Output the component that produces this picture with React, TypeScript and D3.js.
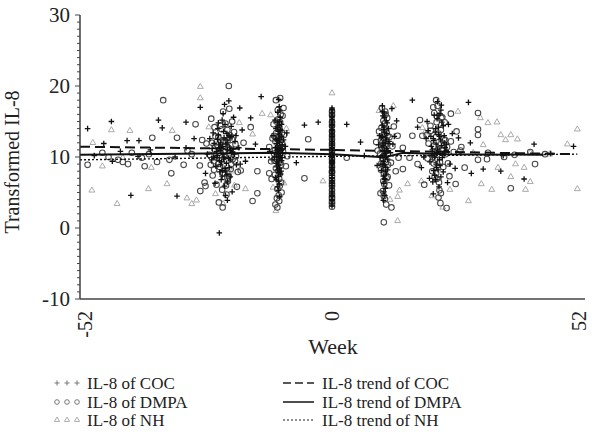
import React, { useRef, useEffect } from "react";
import * as d3 from "d3";

// IL-8 values per group, as [week, transformed IL-8]
const cocPoints: [number, number][] = [
  // scattered
  [-51.4,14.0],[-46.4,15.0],[-46.2,9.4],[-42.3,4.6],[-43.1,12.3],[-40.6,12.3],[-36.5,15.2],[-35.7,14.1],[-32.6,4.5],[-30.7,14.9],
  [-27.7,17.0],[-30.7,11.3],[-40.8,10.1],[-17.1,15.5],[-14.9,18.5],[-16.1,11.8],[-18.2,9.4],[-19.4,16.9],[-5.8,14.5],[-2.9,14.9],
  [3.1,14.6],[6.0,12.1],[18.0,14.2],[13.6,15.1],[12.8,11.8],[29.1,12.0],[31.8,8.3],[35.5,8.0],[42.5,11.8],[40.4,6.9],[29.3,7.7],
  [50.8,11.5],[-48.0,11.9],[-44.5,10.8],[-38.2,11.0],[-33.0,10.0],[-29.0,12.6],[-50.0,10.2],[6.8,10.2],[-7.5,9.2],[36.0,10.2],[46.0,10.5],
  [16.9,18.0],[28.7,17.7],
  // week -22 visit
  [-24.1,10.2],[-23.0,11.5],[-22.2,9.1],[-21.5,12.8],[-23.6,7.9],[-22.8,13.6],[-20.9,10.7],[-24.8,11.9],[-22.5,8.4],[-21.2,14.3],
  [-23.3,6.8],[-22.0,11.0],[-25.3,9.6],[-20.4,12.2],[-23.9,13.1],[-22.6,5.9],[-21.8,9.8],[-24.4,8.7],[-23.1,15.2],[-22.3,12.4],
  [-20.1,8.9],[-25.7,12.6],[-21.4,7.2],[-23.5,10.9],[-22.9,16.1],[-24.0,14.0],[-21.0,5.1],[-22.7,10.0],[-19.6,11.3],[-26.2,10.4],
  [-23.2,9.3],[-21.7,13.0],[-22.4,4.6],[-24.6,6.3],[-20.7,15.6],[-23.8,11.7],[-22.1,7.5],[-25.0,13.4],[-21.1,10.6],[-23.4,12.0],
  [-19.3,9.0],[-22.6,17.4],[-24.2,9.9],[-21.6,11.4],[-23.0,8.1],[-18.9,13.8],[-26.6,7.7],[-22.0,3.9],[-23.7,-0.7],[-21.7,17.9],
  [-22.9,10.4],[-21.9,12.0],[-23.7,9.5],[-22.3,11.8],[-24.3,10.8],[-21.3,9.6],[-22.7,12.7],[-23.4,8.9],[-20.8,11.1],[-24.9,10.0],
  [-22.1,13.3],[-23.1,7.3],[-21.6,8.5],[-22.5,14.6],[-24.1,12.5],[-20.5,10.4],[-23.6,11.3],[-22.0,6.5],[-21.2,12.9],[-25.2,11.2],
  [-22.8,9.7],[-23.9,14.8],[-21.4,10.9],[-22.4,8.0],[-20.2,13.0],
  // week -11 visit
  [-11.3,10.4],[-11.0,12.1],[-11.6,8.6],[-10.8,13.7],[-11.2,7.3],[-11.4,14.9],[-10.6,9.5],[-11.9,11.3],[-11.1,6.2],[-10.9,15.6],
  [-11.5,10.9],[-11.2,12.8],[-11.7,9.1],[-10.5,11.7],[-11.3,5.3],[-11.0,13.2],[-12.1,10.0],[-10.7,8.0],[-11.4,16.3],[-11.1,11.0],
  [-11.8,12.5],[-10.4,10.6],[-11.2,7.8],[-11.5,14.2],[-10.9,9.8],[-12.4,13.0],[-11.0,4.4],[-11.6,11.9],[-10.2,12.4],[-11.3,8.9],
  [-11.1,17.1],[-11.7,6.8],[-10.8,10.2],[-12.0,15.2],[-11.4,9.3],[-9.8,11.5],[-11.9,7.1],[-10.6,14.6],[-12.6,9.6],[-11.2,18.1],
  [-9.5,13.4],[-13.1,10.8],
  [-11.2,10.0],[-10.9,11.3],[-11.5,12.3],[-11.0,8.4],[-11.3,13.6],[-10.7,10.9],[-11.6,9.6],[-11.1,14.4],[-10.8,7.6],[-11.4,11.6],
  [-11.0,15.0],[-11.7,10.4],[-10.6,12.9],[-11.3,6.6],[-11.2,9.0],[-10.9,13.9],[-11.5,8.2],[-11.0,16.6],[-11.8,14.0],[-10.5,9.9],
  [-11.4,5.8],[-11.1,12.5],
  // baseline, week 0
  [0,3.1],[0,3.9],[0,4.4],[0,4.6],[0,5.2],[0,5.8],[0,6.0],[0,6.7],[0,7.1],[0,7.4],[0,7.7],[0,8.3],[0,8.5],[0,8.6],[0,9.2],
  [0,9.4],[0,9.5],[0,9.9],[0,10.0],[0,10.4],[0,10.5],[0,10.9],[0,11.2],[0,11.3],[0,11.8],[0,12.0],[0,12.4],[0,12.7],[0,13.1],
  [0,13.5],[0,13.9],[0,14.2],[0,14.6],[0,15.1],[0,15.5],[0,15.9],[0,16.5],[0,16.9],
  [0,3.5],[0,4.0],[0,4.9],[0,5.5],[0,6.3],[0,6.5],[0,7.0],[0,7.9],[0,8.1],[0,8.9],[0,9.1],[0,9.7],[0,10.2],[0,10.7],[0,11.0],
  [0,11.6],[0,12.2],[0,12.9],[0,13.3],[0,13.7],[0,14.4],[0,14.9],[0,15.3],[0,15.7],[0,16.2],[0,16.7],
  // week 11 visit
  [11.0,10.3],[10.7,12.0],[11.3,8.5],[10.9,13.9],[11.1,7.0],[10.5,11.4],[11.4,15.1],[10.8,9.4],[11.2,5.6],[10.6,14.5],
  [11.6,10.8],[10.4,8.1],[11.0,16.2],[11.3,12.7],[10.2,10.0],[11.8,11.9],[10.9,6.3],[11.5,13.3],[10.3,9.0],[11.1,4.6],
  [12.0,12.2],[10.7,15.8],[11.4,7.6],[10.0,13.0],[11.7,9.7],[10.6,17.2],[11.9,14.0],[10.8,3.9],[12.3,10.6],[9.8,11.7],
  [12.6,16.8],[9.5,8.8],[13.1,12.9],
  [11.1,10.9],[10.8,11.6],[11.3,9.9],[10.6,12.9],[11.0,8.9],[11.5,11.2],[10.9,14.2],[11.2,7.9],[10.5,10.2],[11.4,12.4],
  [11.0,13.5],[10.7,9.0],[11.6,14.8],[11.1,6.8],[10.4,12.8],[11.3,10.5],[10.9,5.1],[11.7,8.2],[10.6,16.4],[11.2,11.9],
  [11.0,15.6],[10.8,7.3],
  // week 22 visit
  [22.0,10.6],[21.4,12.3],[22.7,8.8],[21.8,14.0],[23.2,9.9],[20.9,11.5],[22.4,13.2],[21.6,7.4],[23.6,12.0],[22.1,15.4],
  [20.6,9.3],[24.0,10.9],[21.2,6.5],[22.9,16.6],[21.9,11.8],[23.4,7.9],[20.2,13.7],[22.5,5.8],[24.5,14.6],[21.0,10.2],
  [23.0,17.3],[22.3,8.2],[19.8,12.6],[24.8,9.0],[21.5,15.9],[23.8,11.3],[20.5,7.0],[22.6,12.9],[25.3,13.3],[21.3,4.8],
  [19.3,10.0],[23.1,14.9],[22.2,17.8],[25.9,8.4],[20.0,15.0],[24.3,6.4],[26.6,12.7],[18.8,8.5],
  [22.2,11.1],[21.6,10.0],[22.8,12.4],[21.9,9.0],[23.0,11.6],[22.4,14.2],[21.3,12.6],[23.3,10.5],[22.0,8.5],[21.7,13.5],
  [22.6,9.6],[23.6,13.0],[21.1,11.0],[22.9,7.2],[22.3,15.9],[21.4,8.1],[24.1,11.8],[20.8,12.9],[22.5,10.8],[23.4,14.4],
  [21.8,6.8],[22.7,16.1],
];

const dmpaPoints: [number, number][] = [
  // scattered
  [-51.4,8.9],[-48.3,10.6],[-42.9,9.0],[-39.4,8.7],[-35.5,18.0],[-37.8,12.7],[-33.8,7.7],[-32.6,12.7],[-28.7,14.6],[-26.6,5.9],
  [-27.7,5.2],[-29.5,10.4],[-42.1,10.6],[-17.1,14.2],[-15.7,4.9],[-16.7,3.8],[-15.7,8.0],[-13.2,7.7],[-5.0,12.5],[-5.8,7.0],
  [3.1,9.9],[16.9,13.0],[19.0,13.0],[16.3,9.9],[18.0,9.0],[14.9,8.3],[13.8,13.0],[14.9,11.3],[30.7,16.2],[30.7,13.9],
  [30.7,13.1],[32.6,9.7],[30.7,9.6],[42.7,9.0],[37.6,5.6],[32.8,10.6],[44.8,10.4],[41.7,10.7],[-45.0,9.6],[-36.8,9.3],
  [-31.2,8.9],[-47.0,10.0],[-38.5,10.4],[-34.2,9.6],[-44.0,9.3],[-30.4,10.9],[-40.0,9.9],[36.2,10.0],[38.4,10.3],[27.0,10.9],
  // week -22 visit
  [-23.4,11.2],[-22.1,9.5],[-24.5,12.9],[-21.3,8.3],[-22.8,10.8],[-25.1,7.4],[-20.6,13.5],[-23.9,9.0],[-22.4,14.7],[-21.9,6.6],
  [-24.0,11.6],[-23.1,5.4],[-20.2,10.1],[-25.8,10.3],[-22.6,12.3],[-21.0,15.0],[-23.6,8.6],[-24.7,14.2],[-19.8,7.9],[-22.2,4.7],
  [-26.4,11.9],[-21.5,12.7],[-23.2,13.9],[-20.9,9.7],[-24.3,6.1],[-22.9,16.4],[-25.5,8.9],[-21.7,10.5],[-23.8,3.6],[-20.3,11.8],
  [-22.0,7.0],[-27.3,12.4],[-24.9,9.4],[-19.2,8.1],[-21.6,16.8],[-26.8,6.4],[-23.0,2.9],[-21.7,20.0],[-18.6,12.0],[-25.4,15.4],
  [-27.8,8.8],[-20.0,5.8],
  [-22.5,10.1],[-23.3,12.1],[-21.8,11.3],[-24.2,9.9],[-22.7,8.2],[-20.9,12.4],[-23.7,10.6],[-22.0,13.8],[-24.6,11.0],[-21.2,9.0],
  [-22.9,7.7],[-23.5,14.4],[-21.5,13.1],[-25.2,12.0],[-22.3,6.0],[-20.4,9.4],[-23.9,12.8],[-21.7,7.3],[-24.8,8.2],[-22.6,11.5],
  // week -11 visit
  [-11.4,11.1],[-10.9,9.2],[-11.7,13.4],[-11.0,7.6],[-10.5,12.0],[-12.2,10.5],[-11.3,15.3],[-10.7,6.4],[-11.8,8.4],[-11.1,14.1],
  [-10.3,10.8],[-12.5,12.6],[-11.5,5.5],[-10.8,16.0],[-11.2,9.9],[-12.0,7.5],[-10.1,13.1],[-11.6,4.2],[-11.0,11.8],[-12.8,9.4],
  [-10.4,15.8],[-11.9,3.3],[-11.3,12.9],[-9.7,8.7],[-12.3,14.6],[-10.6,5.0],[-11.8,18.0],[-10.9,18.3],[-13.2,11.4],[-9.4,10.1],
  [-11.5,2.9],[-12.7,6.9],[-10.2,16.9],[-11.1,3.8],
  [-11.2,10.9],[-10.8,12.4],[-11.6,9.7],[-11.0,13.8],[-11.3,8.0],[-10.6,11.4],[-11.9,12.2],[-11.1,6.9],[-10.9,14.9],[-11.5,10.3],
  [-11.4,16.6],[-10.7,8.9],[-12.0,11.0],[-11.2,4.6],[-10.5,13.4],[-11.7,15.0],[-11.0,5.9],[-12.2,13.0],
  // baseline, week 0
  [0,3.4],[0,4.1],[0,4.8],[0,6.3],[0,8.0],[0,9.7],[0,11.5],[0,13.0],[0,14.4],[0,15.9],
  [0,3.7],[0,5.3],[0,5.9],[0,6.8],[0,7.3],[0,8.6],[0,9.2],[0,10.3],[0,10.8],[0,11.9],[0,12.5],[0,13.6],[0,14.9],[0,16.4],
  [0,4.4],[0,7.8],[0,3.0],
  // week 11 visit
  [11.2,11.0],[10.6,9.8],[11.5,13.4],[10.9,7.7],[11.0,14.7],[10.3,12.3],[11.8,8.9],[10.7,5.2],[11.3,16.0],[10.1,10.5],
  [12.1,12.8],[10.8,6.6],[11.6,15.5],[10.4,14.1],[11.1,4.1],[12.4,9.2],[9.9,13.6],[11.4,3.3],[12.7,11.5],[10.5,16.9],
  [12.0,6.0],[9.6,10.9],[13.0,14.3],[11.7,7.2],[10.2,4.9],[13.4,8.0],[9.3,12.1],[14.0,9.9],[10.9,0.8],[12.5,2.9],
  [11.0,10.1],[10.7,12.6],[11.4,9.3],[10.9,13.1],[11.2,8.4],[10.5,11.1],[11.6,11.8],[11.0,6.2],[10.8,15.1],[11.3,10.8],
  [11.1,14.0],[10.4,9.1],[11.7,13.0],[10.9,4.5],[11.5,7.0],[10.6,12.0],[11.2,16.4],[10.3,8.2],
  // week 22 visit
  [22.3,11.0],[21.7,9.6],[22.9,13.8],[21.1,8.0],[23.5,12.5],[22.0,6.9],[20.7,14.4],[23.9,10.4],[21.5,16.2],[22.6,5.3],
  [24.4,9.1],[20.3,11.9],[23.2,15.6],[21.9,7.7],[25.0,12.2],[22.4,4.3],[19.9,13.1],[24.7,7.3],[21.3,17.0],[23.7,14.9],
  [20.1,9.8],[25.6,10.7],[22.8,3.5],[19.4,6.1],[26.2,13.6],[21.9,18.0],[25.0,16.1],[26.0,6.2],[22.9,4.9],[27.9,8.5],
  [18.5,15.2],[27.2,11.4],[24.1,2.8],
  [22.1,10.3],[21.5,11.6],[22.7,9.3],[21.9,12.8],[23.1,10.9],[22.4,13.3],[21.2,10.0],[23.4,8.6],[22.0,14.9],[21.6,7.2],
  [22.8,11.8],[23.8,12.4],[20.8,13.7],[22.5,6.4],[23.0,15.5],[21.4,9.1],[24.2,11.4],[22.2,17.2],
];

const nhPoints: [number, number][] = [
  [-50.3,12.0],[-50.5,5.3],[-48.3,8.7],[-46.4,13.8],[-45.2,3.4],[-42.5,13.7],[-38.6,5.5],[-33.6,13.7],[-34.7,6.2],[-30.5,4.2],
  [-27.7,19.9],[-27.7,18.3],[-28.5,3.9],[-38.0,8.5],[-16.7,13.2],[-18.2,5.5],[-14.7,16.1],[-1.9,6.6],[0,19.0],[19.0,14.1],
  [15.9,6.2],[18.8,6.6],[13.8,4.4],[32.8,14.8],[34.7,14.9],[35.5,13.1],[36.5,12.4],[37.6,13.1],[39.0,12.5],[31.8,11.7],
  [29.7,10.6],[38.6,9.0],[34.9,8.5],[40.4,8.5],[41.7,6.5],[37.6,7.2],[40.7,5.4],[33.6,5.4],[28.7,3.8],[31.4,6.2],
  [24.8,5.4],[21.0,4.5],[31.2,15.5],[49.5,11.8],[51.6,13.9],[51.6,5.5],[45.8,10.4],[41.7,10.6],[-22.9,3.4],[-29.5,3.4],
  [-23.5,12.5],[-21.0,8.0],[-24.5,4.8],[-19.5,14.8],[-25.9,14.2],[-20.5,6.0],[-12.9,15.9],[-10.1,6.3],[-11.8,2.4],[-9.6,14.0],
  [-12.4,5.7],[13.8,1.0],[12.9,17.2],[14.2,5.3],[9.9,16.5],[12.2,4.0],[26.5,16.4],[19.6,13.5],[23.3,2.9],[-44.0,9.9],
];

// trend lines, [week, fitted value]
const cocTrend: [number, number][] = [[-53, 11.45], [0, 11.0], [50.5, 10.4]];
const dmpaTrend: [number, number][] = [[-53, 10.3], [-12, 10.6], [0, 10.4], [11, 9.95], [15, 10.6], [24, 10.4], [44.5, 10.3]];
const nhTrend: [number, number][] = [[-53, 9.6], [0, 10.1], [51.6, 10.4]];

const yTicks = [-10, 0, 10, 20, 30];
const xTicks = [-52, 0, 52];

const FONT = "'Liberation Serif', 'Times New Roman', serif";

const App = () => {
  const svgRef = useRef<SVGSVGElement>(null);

  useEffect(() => {
    const svg = d3.select(svgRef.current);
    svg.selectAll("*").remove();

    const x = d3.scaleLinear().domain([-53, 53]).range([80, 584]);
    const y = d3.scaleLinear().domain([-10, 30]).range([299, 15]);

    const plot = svg.append("g");

    // NH triangles
    const tri = d3.symbol().type(d3.symbolTriangle).size(15)();
    plot.append("g").selectAll("path")
      .data(nhPoints)
      .join("path")
      .attr("d", tri)
      .attr("transform", d => `translate(${x(d[0])},${y(d[1])})`)
      .attr("fill", "none")
      .attr("stroke", "#a0a0a0")
      .attr("stroke-width", 0.9);

    // DMPA circles
    plot.append("g").selectAll("circle")
      .data(dmpaPoints)
      .join("circle")
      .attr("cx", d => x(d[0]))
      .attr("cy", d => y(d[1]))
      .attr("r", 2.8)
      .attr("fill", "none")
      .attr("stroke", "#464646")
      .attr("stroke-width", 1.05);

    // COC plus signs
    plot.append("g").selectAll("path")
      .data(cocPoints)
      .join("path")
      .attr("d", "M-2.8,0H2.8M0,-2.8V2.8")
      .attr("transform", d => `translate(${x(d[0])},${y(d[1])})`)
      .attr("fill", "none")
      .attr("stroke", "#111")
      .attr("stroke-width", 1.3);

    // trend lines
    const line = d3.line<[number, number]>().x(d => x(d[0])).y(d => y(d[1]));
    const trends = [
      { data: nhTrend, dash: "2,2", width: 1.4 },
      { data: dmpaTrend, dash: null, width: 2 },
      { data: cocTrend, dash: "10,5", width: 2 },
    ];
    trends.forEach(t => {
      plot.append("path")
        .attr("d", line(t.data))
        .attr("fill", "none")
        .attr("stroke", "#111")
        .attr("stroke-width", t.width)
        .attr("stroke-dasharray", t.dash);
    });

    // y axis with minor ticks
    const yAxis = svg.append("g").attr("transform", "translate(80,0)");
    yAxis.append("line")
      .attr("x1", 0).attr("x2", 0)
      .attr("y1", y(30)).attr("y2", y(-10))
      .attr("stroke", "#333").attr("stroke-width", 1.4);
    yAxis.selectAll("line.minor")
      .data(d3.range(-10, 31, 1))
      .join("line")
      .attr("class", "minor")
      .attr("x1", d => (d % 10 === 0 ? -5 : -3))
      .attr("x2", 0)
      .attr("y1", d => y(d))
      .attr("y2", d => y(d))
      .attr("stroke", "#444")
      .attr("stroke-width", 1);
    yAxis.selectAll("text")
      .data(yTicks)
      .join("text")
      .attr("x", -10)
      .attr("y", d => y(d))
      .attr("dy", "0.35em")
      .attr("text-anchor", "end")
      .style("font-family", FONT)
      .style("font-size", "21px")
      .attr("fill", "#222")
      .text(d => d);

    // x axis
    svg.append("line")
      .attr("x1", 80).attr("x2", 585)
      .attr("y1", y(-10)).attr("y2", y(-10))
      .attr("stroke", "#444").attr("stroke-width", 1.4);
    svg.append("g").selectAll("text")
      .data(xTicks)
      .join("text")
      .attr("transform", d => `translate(${x(d)},${y(-10) + 12}) rotate(-90)`)
      .attr("dy", "0.35em")
      .attr("text-anchor", "end")
      .style("font-family", FONT)
      .style("font-size", "20px")
      .attr("fill", "#222")
      .text(d => d);

    // axis titles
    svg.append("text")
      .attr("x", 333).attr("y", 354)
      .attr("text-anchor", "middle")
      .style("font-family", FONT)
      .style("font-size", "22px")
      .attr("fill", "#222")
      .text("Week");
    svg.append("text")
      .attr("transform", "translate(19,162) rotate(-90)")
      .attr("text-anchor", "middle")
      .style("font-family", FONT)
      .style("font-size", "20px")
      .attr("fill", "#222")
      .text("Transformed IL-8");

    // legend
    const legend = svg.append("g").style("font-family", FONT).style("font-size", "17px");
    const rows = [383, 402, 420];
    const symbolX = [57, 67, 77];
    const left = ["IL-8 of COC", "IL-8 of DMPA", "IL-8 of NH"];
    const right = ["IL-8 trend of COC", "IL-8 trend of DMPA", "IL-8 trend of NH"];
    symbolX.forEach(sx => {
      legend.append("path").attr("d", "M-2.5,0H2.5M0,-2.5V2.5")
        .attr("transform", `translate(${sx},${rows[0]})`)
        .attr("stroke", "#777").attr("fill", "none");
      legend.append("circle").attr("cx", sx).attr("cy", rows[1]).attr("r", 2.3)
        .attr("stroke", "#777").attr("fill", "none");
      legend.append("path").attr("d", d3.symbol().type(d3.symbolTriangle).size(11)())
        .attr("transform", `translate(${sx},${rows[2]})`)
        .attr("stroke", "#999").attr("fill", "none").attr("stroke-width", 0.8);
    });
    left.forEach((t, i) => {
      legend.append("text").attr("x", 87).attr("y", rows[i] + 6).attr("fill", "#222").text(t);
    });
    const legendDash = ["8,4", null, "2,2"];
    right.forEach((t, i) => {
      legend.append("line")
        .attr("x1", 283).attr("x2", 314)
        .attr("y1", rows[i]).attr("y2", rows[i])
        .attr("stroke", "#222")
        .attr("stroke-width", i === 2 ? 1.2 : 1.6)
        .attr("stroke-dasharray", legendDash[i]);
      legend.append("text").attr("x", 322).attr("y", rows[i] + 6).attr("fill", "#222").text(t);
    });
  }, []);

  return (
    <svg
      ref={svgRef}
      width={592}
      height={442}
      style={{ position: "absolute", left: 0, top: 0, background: "#fff" }}
    />
  );
};

export default App;
